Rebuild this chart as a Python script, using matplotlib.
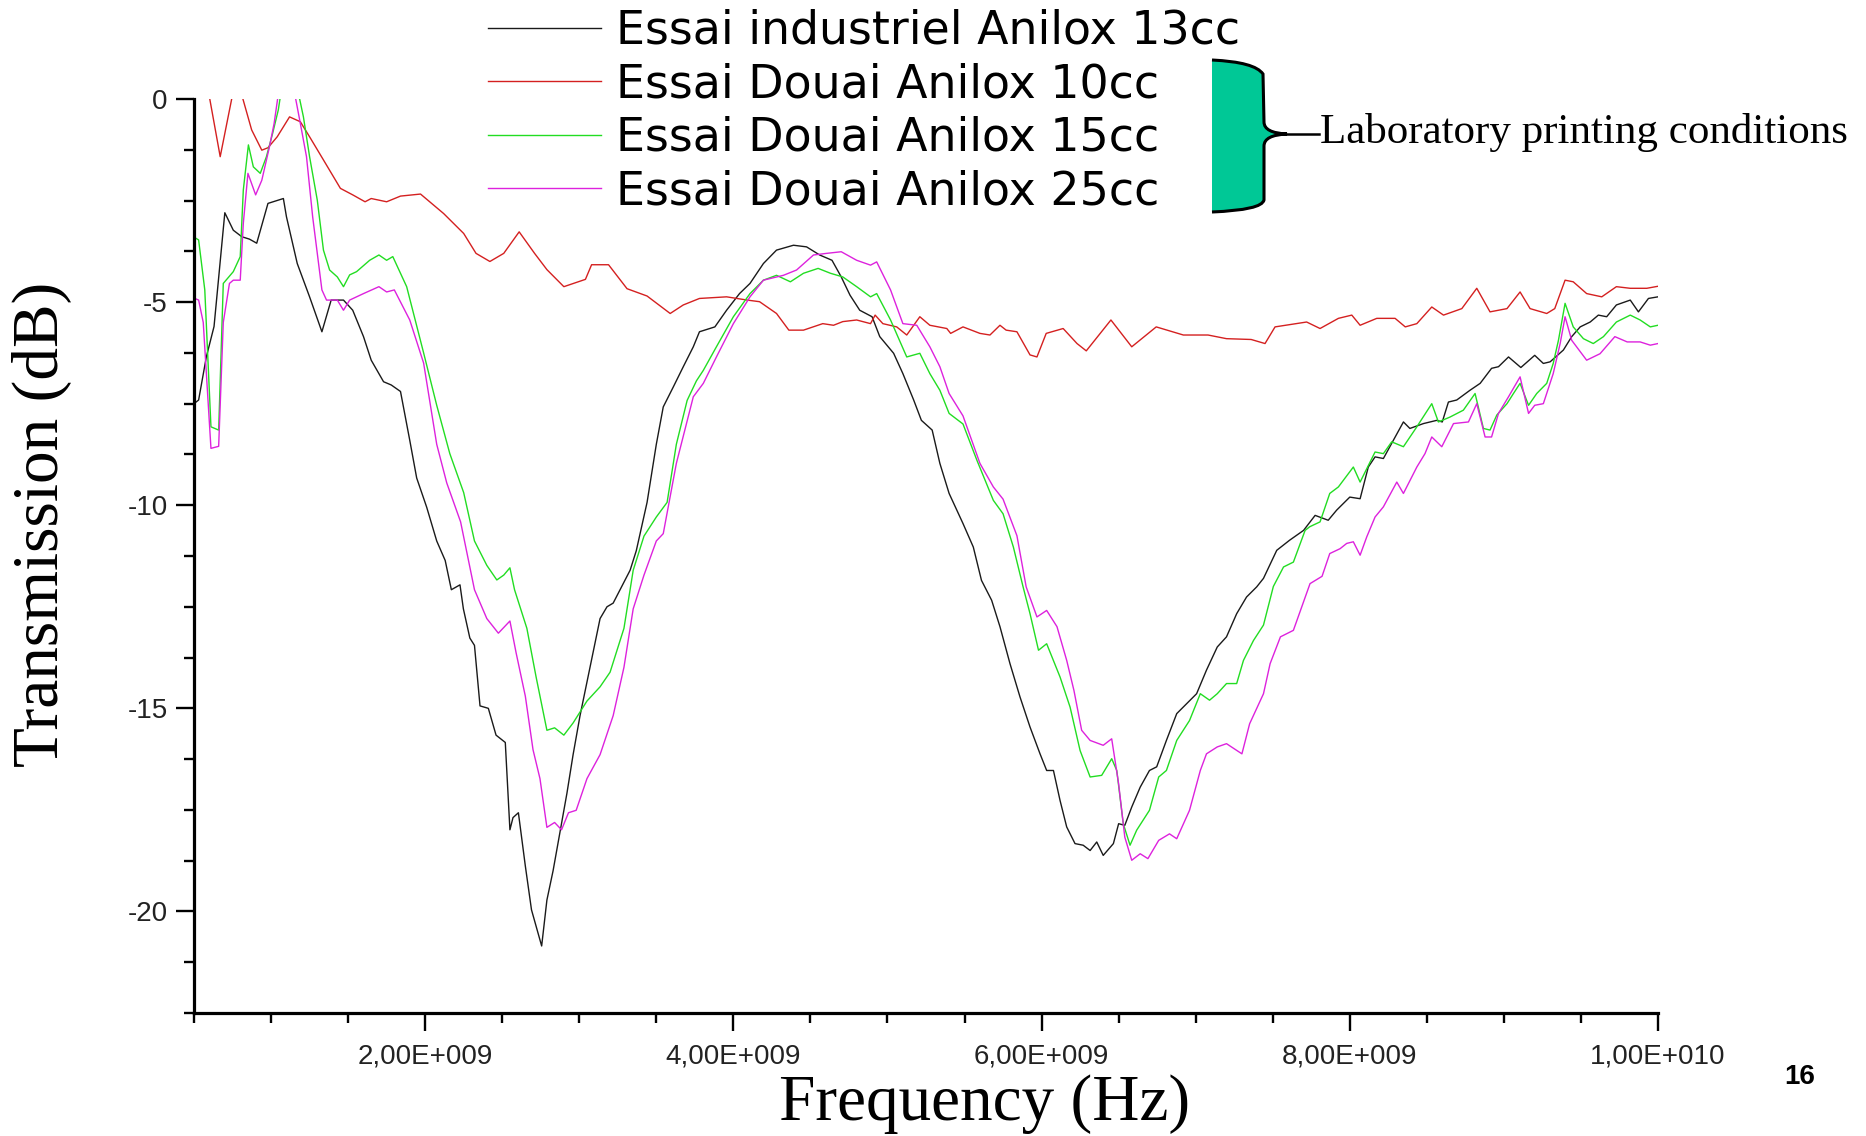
import numpy as np
import matplotlib
matplotlib.use("Agg")
import matplotlib.pyplot as plt
from matplotlib.ticker import MultipleLocator, FuncFormatter
from matplotlib.path import Path
from matplotlib.patches import PathPatch
from matplotlib.lines import Line2D

plt.rcParams['axes.unicode_minus'] = False

## measured transmission, frequency in GHz ##

freq_13cc = [0.50, 0.53, 0.58, 0.63, 0.70, 0.755, 0.81, 0.86, 0.907, 0.98, 1.08, 1.10, 1.17, 1.25,
             1.33, 1.39, 1.47, 1.53, 1.60, 1.65, 1.73, 1.78, 1.84, 1.90, 1.945, 2.01, 2.075, 2.13,
             2.17, 2.226, 2.248, 2.29, 2.32, 2.356, 2.41, 2.46, 2.52, 2.55, 2.57, 2.605, 2.65, 2.69,
             2.756, 2.79, 2.83, 2.875, 2.92, 2.96, 3.005, 3.07, 3.135, 3.18, 3.22, 3.265, 3.33, 3.37,
             3.44, 3.50, 3.545, 3.61, 3.675, 3.74, 3.78, 3.88, 3.956, 4.04, 4.108, 4.195, 4.28, 4.39,
             4.475, 4.56, 4.64, 4.70, 4.757, 4.82, 4.90, 4.95, 5.04, 5.10, 5.17, 5.22, 5.29, 5.34,
             5.40, 5.49, 5.557, 5.61, 5.676, 5.73, 5.795, 5.86, 5.925, 5.99, 6.033, 6.077, 6.12, 6.163,
             6.217, 6.27, 6.315, 6.358, 6.40, 6.466, 6.50, 6.54, 6.585, 6.64, 6.70, 6.747, 6.81, 6.877,
             6.94, 7.006, 7.07, 7.14, 7.20, 7.266, 7.33, 7.396, 7.44, 7.526, 7.61, 7.70, 7.775, 7.86,
             7.915, 8.0, 8.067, 8.12, 8.164, 8.218, 8.283, 8.348, 8.39, 8.478, 8.565, 8.6, 8.64, 8.694,
             8.78, 8.846, 8.92, 8.965, 9.03, 9.11, 9.2, 9.256, 9.3, 9.386, 9.44, 9.495, 9.56, 9.613,
             9.667, 9.73, 9.82, 9.873, 9.938, 10.0]
db_13cc = [-7.5, -7.41, -6.35, -5.6, -2.8, -3.23, -3.39, -3.45, -3.55, -2.57, -2.45, -2.9, -4.05, -4.87,
           -5.73, -4.95, -4.95, -5.2, -5.85, -6.43, -6.96, -7.04, -7.2, -8.4, -9.33, -10.05, -10.88, -11.36,
           -12.08, -11.96, -12.55, -13.27, -13.45, -14.94, -15.0, -15.66, -15.84, -17.99, -17.69, -17.57, -18.88, -19.96,
           -20.85, -19.72, -19.0, -18.05, -17.09, -16.14, -15.18, -13.99, -12.79, -12.5, -12.41, -12.08, -11.6, -11.12,
           -9.93, -8.5, -7.58, -7.09, -6.59, -6.1, -5.73, -5.61, -5.2, -4.79, -4.54, -4.05, -3.72, -3.6,
           -3.64, -3.84, -3.97, -4.38, -4.83, -5.2, -5.36, -5.85, -6.26, -6.76, -7.41, -7.91, -8.15, -8.97,
           -9.71, -10.45, -11.03, -11.85, -12.34, -12.99, -13.9, -14.72, -15.46, -16.12, -16.53, -16.53, -17.27, -17.92,
           -18.33, -18.37, -18.5, -18.29, -18.62, -18.33, -17.84, -17.88, -17.43, -16.94, -16.53, -16.44, -15.79, -15.13,
           -14.89, -14.64, -14.06, -13.49, -13.24, -12.67, -12.26, -12.01, -11.8, -11.11, -10.86, -10.62, -10.25, -10.37,
           -10.12, -9.8, -9.84, -9.06, -8.81, -8.85, -8.4, -7.95, -8.11, -7.99, -7.91, -7.95, -7.46, -7.41,
           -7.17, -7.0, -6.63, -6.59, -6.35, -6.61, -6.31, -6.51, -6.47, -6.18, -5.85, -5.61, -5.49, -5.32,
           -5.36, -5.07, -4.95, -5.24, -4.91, -4.87]

freq_10cc = [0.50, 0.58, 0.60, 0.67, 0.755, 0.81, 0.874, 0.94, 0.98, 1.04, 1.12, 1.19, 1.25, 1.34,
             1.45, 1.53, 1.61, 1.65, 1.75, 1.84, 1.97, 2.12, 2.25, 2.33, 2.42, 2.51, 2.61, 2.71,
             2.79, 2.90, 3.04, 3.08, 3.19, 3.31, 3.44, 3.59, 3.675, 3.78, 3.956, 4.09, 4.17, 4.28,
             4.36, 4.455, 4.58, 4.65, 4.71, 4.80, 4.89, 4.92, 4.97, 5.06, 5.125, 5.21, 5.275, 5.385,
             5.41, 5.49, 5.60, 5.665, 5.73, 5.77, 5.84, 5.925, 5.97, 6.03, 6.14, 6.23, 6.29, 6.45,
             6.585, 6.744, 6.92, 7.08, 7.20, 7.36, 7.45, 7.515, 7.72, 7.807, 7.926, 8.013, 8.067, 8.175,
             8.294, 8.36, 8.435, 8.532, 8.608, 8.727, 8.824, 8.91, 9.02, 9.105, 9.17, 9.278, 9.33, 9.397,
             9.45, 9.537, 9.635, 9.73, 9.82, 9.927, 10.0]
db_10cc = [0.8, 0.3, 0.05, -1.42, 0.2, 0.1, -0.76, -1.26, -1.2, -0.93, -0.44, -0.56, -0.93, -1.5,
           -2.2, -2.36, -2.53, -2.45, -2.53, -2.39, -2.34, -2.82, -3.31, -3.8, -4.0, -3.8, -3.27, -3.8,
           -4.2, -4.62, -4.44, -4.08, -4.08, -4.67, -4.85, -5.28, -5.07, -4.91, -4.87, -4.95, -4.99, -5.28,
           -5.69, -5.69, -5.53, -5.57, -5.48, -5.44, -5.53, -5.32, -5.53, -5.61, -5.81, -5.36, -5.57, -5.65,
           -5.77, -5.61, -5.77, -5.81, -5.57, -5.69, -5.73, -6.3, -6.35, -5.77, -5.65, -6.02, -6.2, -5.44,
           -6.1, -5.61, -5.81, -5.81, -5.9, -5.92, -6.02, -5.61, -5.49, -5.65, -5.4, -5.32, -5.57, -5.4,
           -5.4, -5.61, -5.53, -5.12, -5.32, -5.16, -4.66, -5.24, -5.16, -4.75, -5.16, -5.28, -5.16, -4.46,
           -4.5, -4.79, -4.87, -4.62, -4.66, -4.66, -4.61]

freq_15cc = [0.50, 0.53, 0.57, 0.61, 0.66, 0.69, 0.755, 0.80, 0.82, 0.853, 0.885, 0.93, 0.97, 1.01,
             1.047, 1.07, 1.12, 1.18, 1.21, 1.25, 1.30, 1.34, 1.38, 1.43, 1.47, 1.51, 1.555, 1.64,
             1.70, 1.75, 1.79, 1.88, 1.99, 2.075, 2.16, 2.25, 2.32, 2.40, 2.465, 2.51, 2.55, 2.58,
             2.66, 2.72, 2.79, 2.84, 2.90, 2.96, 3.05, 3.135, 3.20, 3.29, 3.35, 3.42, 3.50, 3.57,
             3.63, 3.70, 3.76, 3.805, 3.89, 4.0, 4.108, 4.195, 4.28, 4.37, 4.455, 4.55, 4.63, 4.71,
             4.80, 4.89, 4.93, 5.02, 5.125, 5.21, 5.275, 5.34, 5.40, 5.49, 5.58, 5.687, 5.75, 5.817,
             5.88, 5.925, 5.98, 6.033, 6.12, 6.185, 6.25, 6.315, 6.39, 6.455, 6.488, 6.53, 6.574, 6.617,
             6.70, 6.76, 6.81, 6.877, 6.96, 7.03, 7.09, 7.14, 7.20, 7.266, 7.31, 7.375, 7.44, 7.504,
             7.57, 7.634, 7.71, 7.74, 7.807, 7.87, 7.926, 8.023, 8.067, 8.164, 8.218, 8.272, 8.348, 8.435,
             8.532, 8.575, 8.65, 8.737, 8.813, 8.867, 8.91, 8.954, 9.02, 9.062, 9.105, 9.16, 9.213, 9.278,
             9.32, 9.354, 9.397, 9.45, 9.516, 9.58, 9.646, 9.73, 9.82, 9.884, 9.95, 10.0]
db_15cc = [-3.4, -3.47, -4.7, -8.07, -8.15, -4.54, -4.25, -3.88, -2.24, -1.13, -1.67, -1.83, -1.42, -0.85,
           -0.27, 0.3, 0.5, 0.1, -0.44, -1.42, -2.49, -3.72, -4.21, -4.38, -4.62, -4.33, -4.25, -3.97,
           -3.84, -3.97, -3.88, -4.62, -6.25, -7.54, -8.73, -9.69, -10.88, -11.48, -11.84, -11.72, -11.54, -12.08,
           -13.03, -14.23, -15.54, -15.48, -15.66, -15.36, -14.82, -14.47, -14.11, -13.03, -11.6, -10.76, -10.29, -9.93,
           -8.5, -7.42, -6.94, -6.68, -6.1, -5.36, -4.79, -4.46, -4.34, -4.5, -4.29, -4.17, -4.29, -4.38,
           -4.62, -4.87, -4.79, -5.44, -6.35, -6.26, -6.76, -7.17, -7.74, -8.0, -8.89, -9.88, -10.21, -11.03,
           -12.01, -12.67, -13.57, -13.41, -14.23, -14.97, -16.04, -16.69, -16.65, -16.24, -16.53, -17.84, -18.37, -18.0,
           -17.51, -16.69, -16.53, -15.79, -15.3, -14.64, -14.8, -14.64, -14.39, -14.39, -13.82, -13.33, -12.95, -12.0,
           -11.52, -11.4, -10.62, -10.53, -10.41, -9.71, -9.55, -9.06, -9.43, -8.69, -8.73, -8.44, -8.56, -8.07,
           -7.5, -7.95, -7.83, -7.66, -7.25, -8.11, -8.15, -7.78, -7.5, -7.25, -7.0, -7.54, -7.25, -7.0,
           -6.51, -5.94, -5.03, -5.61, -5.9, -6.02, -5.85, -5.49, -5.32, -5.44, -5.61, -5.57]

freq_25cc = [0.50, 0.53, 0.56, 0.61, 0.66, 0.69, 0.73, 0.755, 0.80, 0.82, 0.85, 0.90, 0.94, 0.99,
             1.02, 1.05, 1.10, 1.155, 1.19, 1.23, 1.27, 1.33, 1.36, 1.43, 1.47, 1.51, 1.60, 1.70,
             1.75, 1.80, 1.90, 1.99, 2.075, 2.14, 2.23, 2.32, 2.40, 2.475, 2.55, 2.59, 2.65, 2.70,
             2.745, 2.79, 2.84, 2.885, 2.93, 2.98, 3.05, 3.135, 3.22, 3.29, 3.35, 3.42, 3.50, 3.545,
             3.63, 3.74, 3.805, 3.89, 4.0, 4.108, 4.195, 4.325, 4.41, 4.52, 4.605, 4.70, 4.80, 4.89,
             4.93, 5.02, 5.10, 5.19, 5.275, 5.34, 5.40, 5.49, 5.60, 5.687, 5.75, 5.84, 5.90, 5.97,
             6.033, 6.10, 6.163, 6.21, 6.26, 6.315, 6.40, 6.455, 6.50, 6.54, 6.585, 6.64, 6.69, 6.76,
             6.83, 6.877, 6.96, 7.03, 7.07, 7.14, 7.20, 7.30, 7.35, 7.44, 7.483, 7.55, 7.634, 7.70,
             7.742, 7.82, 7.87, 7.937, 7.98, 8.023, 8.067, 8.11, 8.164, 8.218, 8.305, 8.348, 8.435, 8.488,
             8.532, 8.597, 8.673, 8.77, 8.824, 8.878, 8.92, 8.965, 9.03, 9.105, 9.16, 9.2, 9.256, 9.32,
             9.365, 9.397, 9.44, 9.537, 9.624, 9.72, 9.8, 9.884, 9.95, 10.0]
db_25cc = [-4.9, -4.95, -5.5, -8.6, -8.55, -5.5, -4.54, -4.46, -4.46, -3.06, -1.83, -2.36, -2.0, -1.17,
           -0.6, 0.2, 0.5, 0.1, -0.6, -1.42, -2.9, -4.7, -4.95, -4.95, -5.2, -4.95, -4.79, -4.62,
           -4.75, -4.7, -5.44, -6.5, -8.5, -9.45, -10.41, -12.08, -12.79, -13.15, -12.85, -13.63, -14.7, -16.02,
           -16.73, -17.93, -17.81, -17.99, -17.57, -17.51, -16.73, -16.14, -15.18, -13.99, -12.55, -11.72, -10.88, -10.7,
           -8.97, -7.33, -7.0, -6.35, -5.53, -4.87, -4.46, -4.34, -4.21, -3.84, -3.8, -3.76, -3.97, -4.09,
           -4.01, -4.7, -5.53, -5.57, -6.1, -6.59, -7.25, -7.8, -8.97, -9.55, -9.85, -10.75, -12.01, -12.75,
           -12.59, -12.99, -13.82, -14.56, -15.54, -15.79, -15.91, -15.75, -16.86, -18.17, -18.74, -18.58, -18.7, -18.25,
           -18.09, -18.21, -17.51, -16.53, -16.12, -15.95, -15.87, -16.12, -15.38, -14.64, -13.9, -13.24, -13.08, -12.38,
           -11.93, -11.75, -11.19, -11.07, -10.94, -10.9, -11.23, -10.78, -10.29, -10.04, -9.43, -9.71, -9.06, -8.73,
           -8.32, -8.56, -7.99, -7.95, -7.5, -8.32, -8.32, -7.74, -7.33, -6.84, -7.74, -7.54, -7.5, -6.76,
           -6.02, -5.36, -5.94, -6.43, -6.27, -5.85, -5.98, -5.98, -6.06, -6.02]

series_labels = ['Essai industriel Anilox 13cc', 'Essai Douai Anilox 10cc',
                 'Essai Douai Anilox 15cc', 'Essai Douai Anilox 25cc']
series_colors = ['#1a1a1a', '#d42020', '#22dd22', '#dd22dd']

W, H = 1866, 1136


def fx(px):
    return px / W


def fy(py):
    return 1 - py / H


def origin_sci(x, pos):
    # 2,00E+009 style labels
    if x == 0:
        return '0'
    e = int(np.floor(np.log10(abs(x)) + 1e-9))
    return ('%.2f' % (x / 10 ** e)).replace('.', ',') + 'E+%03d' % e


fig = plt.figure(figsize=(W / 100, H / 100), dpi=100)
ax = fig.add_axes([fx(194), fy(1013), fx(1658) - fx(194), fy(99) - fy(1013)])

lines = []
for f, d, c in zip([freq_13cc, freq_10cc, freq_15cc, freq_25cc],
                   [db_13cc, db_10cc, db_15cc, db_25cc], series_colors):
    ln, = ax.plot(np.array(f) * 1e9, d, color=c, lw=1.0)
    lines.append(ln)

ax.set_xlim(0.5e9, 1e10)
ax.set_ylim(-22.5, 0)
for s in ['top', 'right']:
    ax.spines[s].set_visible(False)
for s in ['left', 'bottom']:
    ax.spines[s].set_linewidth(2.3)

ax.xaxis.set_major_locator(MultipleLocator(2e9))
ax.xaxis.set_minor_locator(MultipleLocator(5e8))
ax.yaxis.set_major_locator(MultipleLocator(5))
ax.yaxis.set_minor_locator(MultipleLocator(1.25))
ax.xaxis.set_major_formatter(FuncFormatter(origin_sci))
ax.yaxis.set_major_formatter(FuncFormatter(lambda v, p: '%d' % v))
ax.tick_params(which='major', direction='out', length=13, width=1.7, labelsize=20,
               labelcolor='#222222', labelfontfamily='Liberation Sans')
ax.tick_params(which='minor', direction='out', length=7, width=1.7)
ax.tick_params(axis='x', which='major', pad=9)
ax.tick_params(axis='y', which='major', pad=6)

ax.set_xlabel('Frequency (Hz)', family='Liberation Serif', fontsize=47)
ax.set_ylabel('Transmission (dB)', family='Liberation Serif', fontsize=47)
ax.xaxis.set_label_coords((985 - 194) / 1464, (1013 - 1104) / 914)
ax.yaxis.set_label_coords((42 - 194) / 1464, (1013 - 524) / 914)
ax.xaxis.label.set(va='center', ha='center')
ax.yaxis.label.set(va='center', ha='center', rotation_mode='default')

fig.legend(lines, series_labels, loc='upper left', bbox_to_anchor=(fx(488), fy(9)),
           frameon=False, borderpad=0, borderaxespad=0, handlelength=2.47, handletextpad=0.33,
           labelspacing=0.185, prop={'family': 'DejaVu Sans', 'size': 33})

# green brace grouping the laboratory runs
outline = [(1212, 60), (1255, 62), (1263, 74), (1264, 122), (1264, 133), (1287, 134),
           (1264, 135), (1264, 146), (1264, 200), (1262, 210), (1212, 212)]
codes = [Path.MOVETO, Path.CURVE3, Path.CURVE3, Path.LINETO, Path.CURVE3, Path.CURVE3,
         Path.CURVE3, Path.CURVE3, Path.LINETO, Path.CURVE3, Path.CURVE3]
verts = [(fx(x), fy(y)) for x, y in outline]
fill_path = Path(verts + [verts[0]], codes + [Path.CLOSEPOLY])
fig.add_artist(PathPatch(fill_path, facecolor='#00c896', edgecolor='none',
                         transform=fig.transFigure))
fig.add_artist(PathPatch(Path(verts, codes), facecolor='none', edgecolor='black',
                         lw=2.2, transform=fig.transFigure))
fig.add_artist(Line2D([fx(1285), fx(1319)], [fy(134), fy(134)], color='black', lw=1.8,
                      transform=fig.transFigure))
fig.text(fx(1320), fy(132), 'Laboratory printing conditions', family='Liberation Serif',
         fontsize=31, ha='left', va='center')

fig.text(fx(1800), fy(1077), '16', family='Liberation Sans', fontsize=20, fontweight='bold',
         ha='center', va='center')

fig.savefig('out.png', dpi=100)
